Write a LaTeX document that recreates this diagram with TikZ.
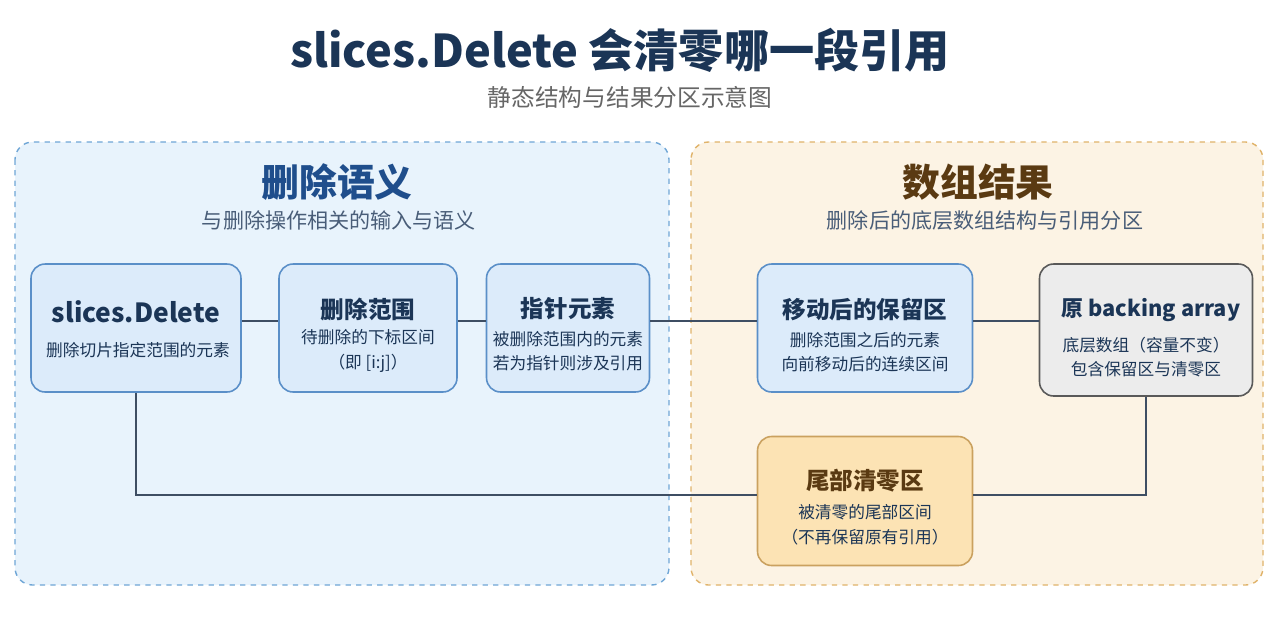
\documentclass[tikz,border=0pt]{standalone}
\usepackage{fontspec}
\setmainfont{Noto Sans CJK SC}
\usetikzlibrary{positioning}
\definecolor{navy}{HTML}{1B3556}
\definecolor{hblue}{HTML}{1F4E8C}
\definecolor{hbrown}{HTML}{5A3A12}
\definecolor{bluefill}{HTML}{E8F3FC}
\definecolor{blueline}{HTML}{6FA6D6}
\definecolor{orfill}{HTML}{FCF3E4}
\definecolor{orline}{HTML}{E0B36A}
\definecolor{tailfill}{HTML}{FCE3B4}
\definecolor{boxfill}{HTML}{DCEBFA}
\definecolor{boxline}{HTML}{5A8FC8}
\definecolor{conn}{HTML}{3E4E63}
\tikzset{
  panel/.style={rectangle, rounded corners=10pt, dashed, line width=0.8pt},
  card/.style={
    rectangle,
    rounded corners=8pt,
    fill=boxfill,
    draw=boxline, line width=0.9pt,
    align=center,
    text=navy},
  ctitle/.style={font=\bfseries\fontsize{13.4}{15}\selectfont},
  cbody/.style={font=\fontsize{9.5}{14}\selectfont},
  link/.style={draw=conn, line width=1.2pt},
}
\begin{document}
\begin{tikzpicture}[x=0.02cm,y=-0.02cm]
\useasboundingbox[fill=white] (0,0) rectangle (1280,640);
% title
\node[font=\bfseries\fontsize{25.7}{28}\selectfont, text=navy] (title) at (620,50) {slices.Delete 会清零哪一段引用};
\node[font=\fontsize{13.5}{15}\selectfont, text=gray!80!black] (subtitle) at (630,97) {静态结构与结果分区示意图};
% panels
\draw[panel, fill=bluefill, draw=blueline] (15,142) rectangle (669,585);
\draw[panel, fill=orfill, draw=orline] (691,142) rectangle (1263,585);
\node[font=\bfseries\fontsize{21.5}{24}\selectfont, text=hblue] (lhead) at (337,182) {删除语义};
\node[font=\fontsize{12}{14}\selectfont, text=navy!80] (lsub) at (339,220) {与删除操作相关的输入与语义};
\node[font=\bfseries\fontsize{21.5}{24}\selectfont, text=hbrown] (rhead) at (978,182) {数组结果};
\node[font=\fontsize{12}{14}\selectfont, text=navy!80] (rsub) at (985,220) {删除后的底层数组结构与引用分区};
% cards
\node[card, minimum width=4.2cm, minimum height=2.56cm] (delete) at (136,328) {};
\node[ctitle, font=\bfseries\fontsize{15}{17}\selectfont, text=navy] at (136,312) {slices.Delete};
\node[cbody, text=navy] at (138,350) {删除切片指定范围的元素};
\node[card, minimum width=3.56cm, minimum height=2.56cm] (range) at (368,328) {};
\node[ctitle, text=navy] at (368,309) {删除范围};
\node[cbody, text=navy, align=center] at (368,351) {待删除的下标区间\\（即 [i:j]）};
\node[card, minimum width=3.26cm, minimum height=2.56cm] (pointer) at (568,328) {};
\node[ctitle, text=navy] at (568,309) {指针元素};
\node[cbody, text=navy, align=center] at (568,351) {被删除范围内的元素\\若为指针则涉及引用};
\node[card, minimum width=4.3cm, minimum height=2.56cm] (kept) at (865,328) {};
\node[ctitle, text=navy] at (865,309) {移动后的保留区};
\node[cbody, text=navy, align=center] at (865,352) {删除范围之后的元素\\向前移动后的连续区间};
\node[card, fill=gray!15, draw=gray!70!black, minimum width=4.26cm, minimum height=2.64cm] (backing) at (1146,330) {};
\node[ctitle, font=\bfseries\fontsize{12.4}{15}\selectfont, text=navy] at (1151,310) {原 backing array};
\node[cbody, text=navy, align=center] at (1146,357) {底层数组（容量不变）\\包含保留区与清零区};
\node[card, fill=tailfill, draw=orline!90!black, minimum width=4.3cm, minimum height=2.58cm] (tail) at (865,501) {};
\node[ctitle, text=hbrown] at (865,481) {尾部清零区};
\node[cbody, text=navy, align=center] at (865,525) {被清零的尾部区间\\（不再保留原有引用）};
% connectors
\draw[link] (delete.east |- 0,321) -- (range.west |- 0,321);
\draw[link] (range.east |- 0,321) -- (pointer.west |- 0,321);
\draw[link] (pointer.east |- 0,321) -- (kept.west |- 0,321);
\draw[link] (kept.east |- 0,321) -- (backing.west |- 0,321);
\draw[link] (delete.south) |- (tail.west |- 0,495);
\draw[link] (backing.south) |- (tail.east |- 0,495);
\end{tikzpicture}
\end{document}
